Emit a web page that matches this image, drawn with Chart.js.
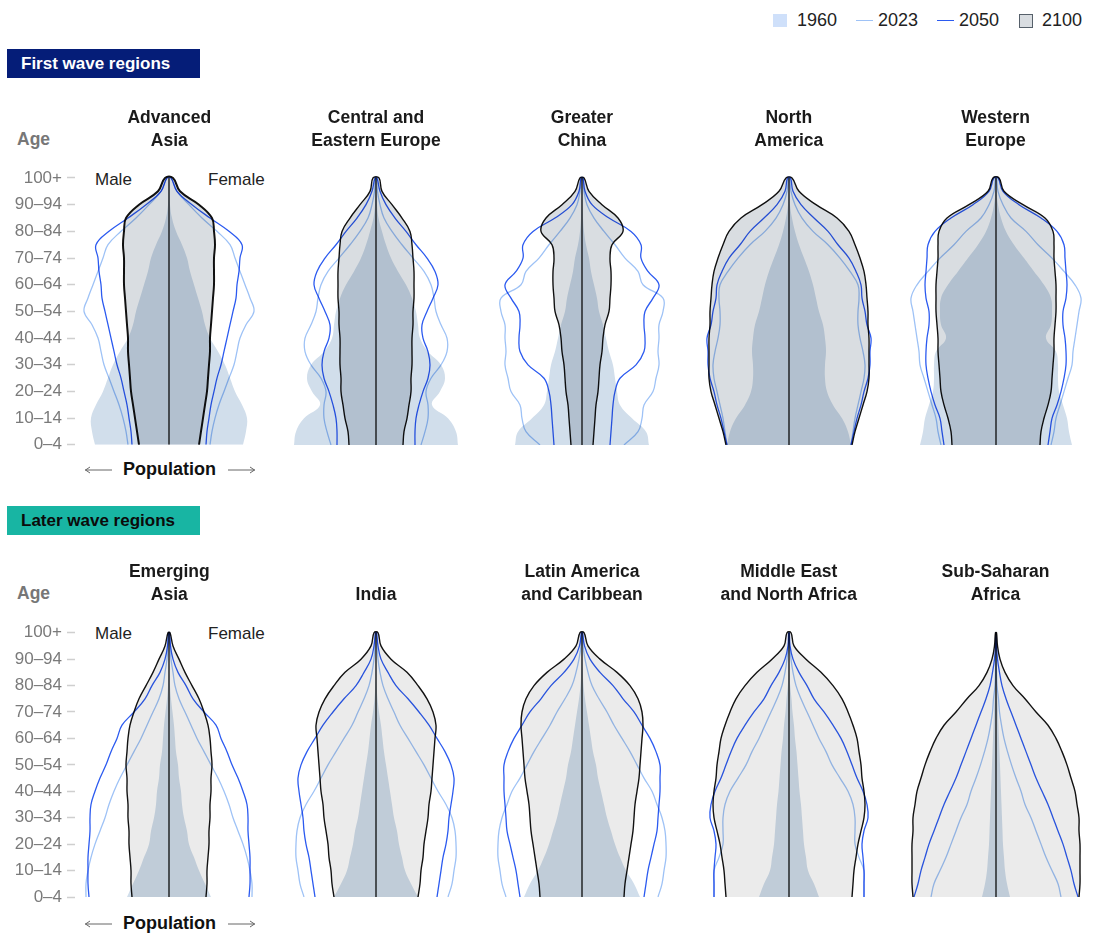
<!DOCTYPE html>
<html>
<head>
<meta charset="utf-8">
<script src="https://cdn.jsdelivr.net/npm/chart.js@4.4.1/dist/chart.umd.min.js"></script>
<style>
  body { margin: 0; background: #fff; font-family: "Liberation Sans", Arial, sans-serif; color: #1a1a1a; }
  #page { position: relative; width: 1101px; height: 933px; overflow: hidden; }
  #page canvas { position: absolute; }
  .abs { position: absolute; white-space: nowrap; }
  .title { font-weight: bold; font-size: 17.5px; line-height: 23px; text-align: center; width: 220px; }
  .section { height: 29px; line-height: 29px; font-weight: bold; font-size: 17px; padding-left: 14px; width: 179px; }
  .age { font-weight: bold; font-size: 17.5px; color: #777; }
  .sex { font-size: 17px; color: #222; }
  .pop { font-weight: bold; font-size: 18px; color: #111; }
  .leg { font-size: 18px; color: #222; top: 10px; }
</style>
</head>
<body>
<div id="page"></div>
<script>
/* AGE AXIS */
const ageGroups = ["0–4", "5–9", "10–14", "15–19", "20–24", "25–29", "30–34", "35–39", "40–44", "45–49",
  "50–54", "55–59", "60–64", "65–69", "70–74", "75–79", "80–84", "85–89", "90–94", "95–99", "100+"];
const tickIndex = [0, 2, 4, 6, 8, 10, 12, 14, 16, 18, 20];

/* RELATIVE POPULATION BY AGE GROUP (one side of the pyramid, youngest first) */
// First wave regions
const advAsia1960 = [74, 77, 78, 73, 66, 61, 56, 49, 41, 36, 33, 29, 25, 21, 18, 13, 7, 3, 1, 0.5, 0.2];
const advAsia2023 = [41, 43, 46, 50, 55, 60, 65, 68, 71, 77, 85, 81, 76, 71, 66, 61, 48, 33, 20, 8, 2];
const advAsia2050 = [37, 38, 40, 42, 45, 48, 52, 55, 58, 61, 64, 67, 68, 70, 71, 73, 60, 41, 23, 8, 2];
const advAsia2100 = [30, 32, 34, 36, 38, 39, 40, 41, 41, 42, 43, 44, 45, 45, 45, 46, 45, 43, 30, 11, 4];

const ceEurope1960 = [82, 80, 72, 56, 64, 69, 65, 52, 44, 42, 40, 36, 30, 22, 15, 10, 6, 2.5, 1, 0.5, 0.2];
const ceEurope2023 = [45, 49, 52, 52, 50, 55, 65, 71, 71, 65, 60, 58, 55, 48, 37, 26, 16, 8, 4, 1.5, 0.5];
const ceEurope2050 = [39, 39, 40, 43, 47, 52, 54, 52, 47, 46, 51, 57, 62, 59, 51, 40, 30, 19, 10, 4, 1];
const ceEurope2100 = [27, 28, 31, 33, 35, 35, 36, 36, 36, 37, 37, 38, 38, 38, 37, 36, 34, 26, 16, 6, 3];

const china1960 = [67, 64, 50, 38, 35, 33, 31, 27, 24, 21, 17, 15, 12, 9, 7, 4, 2, 1, 0.5, 0.2, 0.1];
const china2023 = [42, 56, 60, 62, 71, 74, 77, 76, 77, 77, 81, 81, 61, 56, 43, 33, 22, 12, 5, 2, 0.5];
const china2050 = [28, 29, 30, 31, 33, 38, 54, 62, 63, 62, 63, 71, 77, 66, 59, 59, 49, 27, 10, 3, 1];
const china2100 = [11, 12, 13, 14, 16, 17, 18, 20, 21, 23, 27, 28, 29, 29, 28, 30, 41, 36, 20, 7, 2];

const nAmerica1960 = [62, 59, 53, 44, 38, 36, 36, 37, 36, 34, 30, 27, 24, 20, 15, 10, 6, 3, 1, 0.3, 0.1];
const nAmerica2023 = [62, 64, 66, 69, 72, 75, 76, 74, 71, 69, 69, 70, 69, 61, 51, 39, 24, 13, 6, 2, 0.5];
const nAmerica2050 = [62, 65, 68, 72, 75, 79, 81, 81, 82, 78, 76, 73, 72, 67, 60, 49, 39, 25, 12, 4, 1.5];
const nAmerica2100 = [63, 66, 70, 74, 78, 80, 80, 80, 80, 79, 79, 78, 77, 75, 71, 66, 60, 48, 27, 10, 3];

const wEurope1960 = [76, 73, 71, 67, 63, 62, 62, 60, 50, 55, 56, 55, 48, 38, 28, 18, 10, 5, 2, 0.5, 0.2];
const wEurope2023 = [55, 58, 60, 64, 68, 72, 76, 77, 79, 81, 83, 85, 79, 68, 56, 42, 30, 15, 7, 2, 0.5];
const wEurope2050 = [52, 54, 56, 61, 65, 68, 70, 70, 69, 67, 67, 70, 71, 70, 69, 68, 61, 45, 23, 7, 2];
const wEurope2100 = [44, 45, 48, 52, 55, 56, 57, 58, 58, 59, 60, 60, 60, 59, 58, 58, 57, 49, 27, 8, 3];

// Later wave regions
const emAsia1960 = [42, 36, 30, 25, 20, 18, 15, 13, 12, 10, 9, 7, 6, 5, 3.5, 2, 1, 0.5, 0.2, 0.1, 0.1];
const emAsia2023 = [83, 83, 81, 78, 74, 69, 64, 60, 55, 49, 42, 35, 28, 22, 16, 10, 6, 4, 2, 1, 0.3];
const emAsia2050 = [80, 81, 81, 81, 80, 79, 79, 78, 74, 69, 63, 58, 52, 47, 35, 24, 17, 9, 4, 1.5, 0.5];
const emAsia2100 = [37, 38, 38, 39, 40, 40, 41, 41, 42, 42, 43, 42, 41, 39, 35, 30, 23, 16, 10, 4, 1];

const india1960 = [42, 35, 29, 26, 23, 21, 18, 16, 14, 12, 10, 8, 6.5, 5, 3, 1.5, 0.7, 0.3, 0.1, 0.1, 0.1];
const india2023 = [72, 76, 78, 80, 80, 79, 76, 70, 62, 55, 48, 40, 32, 24, 18, 12, 7, 4, 2, 1, 0.3];
const india2050 = [61, 63, 65, 67, 70, 72, 73, 75, 77, 78, 75, 69, 61, 53, 43, 32, 20, 12, 5, 2, 0.5];
const india2100 = [42, 44, 45, 47, 48, 50, 52, 53, 55, 56, 57, 58, 59, 60, 57, 51, 42, 31, 15, 5, 2];

const latAm1960 = [58, 52, 44, 38, 33, 29, 25, 22, 19, 16, 14, 11, 9, 7, 5, 3, 1.5, 0.8, 0.3, 0.1, 0.1];
const latAm2023 = [76, 80, 82, 84, 84, 83, 80, 75, 70, 62, 55, 48, 40, 32, 25, 17, 10, 6, 3, 1, 0.3];
const latAm2050 = [62, 64, 66, 69, 72, 75, 76, 77, 78, 78, 78, 74, 68, 60, 52, 41, 31, 18, 8, 2.5, 0.5];
const latAm2100 = [42, 43, 45, 47, 49, 51, 52, 53, 55, 57, 58, 59, 60, 61, 60, 56, 48, 35, 18, 6, 2];

const mena1960 = [30, 25, 19, 17, 15, 14, 13, 12, 10.5, 9.5, 8.5, 7.5, 6, 5, 3.5, 2.5, 1.2, 0.5, 0.2, 0.1, 0.1];
const mena2023 = [75, 75, 75, 70, 66, 66, 66, 64, 59, 51, 43, 37, 30, 24, 18, 12, 7, 4, 2, 0.5, 0.2];
const mena2050 = [75, 75, 75, 74, 73, 75, 79, 78, 74, 68, 63, 58, 52, 44, 35, 25, 18, 10, 4, 1, 0.3];
const mena2100 = [63, 64, 65, 67, 69, 72, 75, 76, 75, 73, 72, 70, 68, 64, 59, 53, 44, 32, 17, 5, 2];

const ssa1960 = [14, 11, 9, 8, 7, 6.5, 6, 5.5, 5, 4.5, 4, 3.5, 3, 2.5, 2, 1.5, 1, 0.5, 0.2, 0.1, 0.1];
const ssa2023 = [65, 62, 56, 50, 45, 40, 35, 29, 25, 20, 15.5, 11.5, 8, 5.5, 3.5, 2.5, 1, 0.5, 0.2, 0.1, 0.1];
const ssa2050 = [82, 78, 75, 71, 67, 62, 57, 52, 46, 40, 35, 30, 25, 20, 15, 10, 6, 3.5, 1.5, 0.5, 0.2];
const ssa2100 = [83, 84, 84, 84, 84, 83, 83, 81, 79, 75, 71, 66, 60, 52, 40, 29, 17, 9, 4, 1.5, 0.5];

const firstWave = [
  { title: ["Advanced", "Asia"], v1960: advAsia1960, v2023: advAsia2023, v2050: advAsia2050, v2100: advAsia2100 },
  { title: ["Central and", "Eastern Europe"], v1960: ceEurope1960, v2023: ceEurope2023, v2050: ceEurope2050, v2100: ceEurope2100 },
  { title: ["Greater", "China"], v1960: china1960, v2023: china2023, v2050: china2050, v2100: china2100 },
  { title: ["North", "America"], v1960: nAmerica1960, v2023: nAmerica2023, v2050: nAmerica2050, v2100: nAmerica2100 },
  { title: ["Western", "Europe"], v1960: wEurope1960, v2023: wEurope2023, v2050: wEurope2050, v2100: wEurope2100 },
];
const laterWave = [
  { title: ["Emerging", "Asia"], v1960: emAsia1960, v2023: emAsia2023, v2050: emAsia2050, v2100: emAsia2100 },
  { title: ["India"], v1960: india1960, v2023: india2023, v2050: india2050, v2100: india2100 },
  { title: ["Latin America", "and Caribbean"], v1960: latAm1960, v2023: latAm2023, v2050: latAm2050, v2100: latAm2100 },
  { title: ["Middle East", "and North Africa"], v1960: mena1960, v2023: mena2023, v2050: mena2050, v2100: mena2100 },
  { title: ["Sub-Saharan", "Africa"], v1960: ssa1960, v2023: ssa2023, v2050: ssa2050, v2100: ssa2100 },
];

/* LAYOUT & STYLE */
const COL_X = [169.3, 376, 582, 788.8, 995.5];
const PANEL_W = 340;
const AXIS_W = 76;
const X_HALF = 94;
const BLUE_1960 = "#d1deeb";
const LINE_2023 = "#9ec2f6";
const LINE_2050 = "#2b5af0";

const rows = [
  { regions: firstWave, canvasTop: 150, height: 310, padTop: 21.3, padBottom: 15, gray: "#d9dde1",
    titleBottom: 151.5, ageY: 140, sexY: 180, popY: 470, section: "First wave regions", sectionTop: 49,
    sectionBg: "#051d78", sectionColor: "#fff" },
  { regions: laterWave, canvasTop: 605, height: 310, padTop: 21.1, padBottom: 18, gray: "#ebebeb",
    titleBottom: 605.5, ageY: 594, sexY: 634, popY: 924, section: "Later wave regions", sectionTop: 506,
    sectionBg: "#18b5a3", sectionColor: "#0b0b0b" },
];

const page = document.getElementById("page");

function addText(cls, text, styles) {
  const el = document.createElement("div");
  el.className = "abs " + cls;
  el.innerHTML = text;
  Object.assign(el.style, styles);
  page.appendChild(el);
  return el;
}

// male side on the left (negative), female side on the right
function pyramidPath(values) {
  const male = values.map((v, i) => ({ x: -v, y: i }));
  const female = values.map((v, i) => ({ x: v, y: i })).reverse();
  return male.concat(female);
}

// shapes overlap like ink: multiply where 1960 and 2100 cross
const multiplyPlugin = {
  id: "multiply",
  beforeDatasetsDraw(chart) {
    chart.ctx.save();
    chart.ctx.globalCompositeOperation = "multiply";
  },
  afterDatasetsDraw(chart) {
    chart.ctx.restore();
  },
};

function drawPanel(region, row, col) {
  const canvas = document.createElement("canvas");
  canvas.width = PANEL_W;
  canvas.height = row.height;
  canvas.style.left = COL_X[col] - PANEL_W / 2 + "px";
  canvas.style.top = row.canvasTop + "px";
  page.appendChild(canvas);

  const showAxis = col === 0;
  const lineCommon = { showLine: true, pointRadius: 0, tension: 0.4 };

  new Chart(canvas, {
    type: "scatter",
    data: {
      datasets: [
        { ...lineCommon, label: "centre", data: [{ x: 0, y: 0 }, { x: 0, y: 20 }],
          borderColor: "#3a3a3a", borderWidth: 1.6, tension: 0, order: 0 },
        { ...lineCommon, label: "2050", data: pyramidPath(region.v2050),
          borderColor: LINE_2050, borderWidth: 1.3, fill: false, order: 1 },
        { ...lineCommon, label: "2023", data: pyramidPath(region.v2023),
          borderColor: LINE_2023, borderWidth: 1.3, fill: false, order: 2 },
        { ...lineCommon, label: "2100", data: pyramidPath(region.v2100),
          borderColor: "#111", borderWidth: col === 0 && row === rows[0] ? 2 : 1.4,
          backgroundColor: row.gray, fill: "shape", order: 3 },
        { ...lineCommon, label: "1960", data: pyramidPath(region.v1960),
          borderWidth: 0, borderColor: "rgba(0,0,0,0)", backgroundColor: BLUE_1960, fill: "shape", order: 4 },
      ],
    },
    options: {
      responsive: false,
      animation: false,
      events: [],
      // the age axis keeps its width even where it is hidden, so every panel lines up
      layout: { padding: { left: 0, right: AXIS_W, top: row.padTop, bottom: row.padBottom } },
      plugins: { legend: { display: false }, tooltip: { enabled: false } },
      scales: {
        x: { type: "linear", min: -X_HALF, max: X_HALF, display: false },
        y: {
          type: "linear",
          min: 0,
          max: 20.5,
          display: showAxis,
          afterFit: (scale) => { scale.width = AXIS_W; },
          afterBuildTicks: (scale) => { scale.ticks = tickIndex.map((v) => ({ value: v })); },
          border: { display: false },
          grid: { drawOnChartArea: false, drawTicks: true, tickLength: 8, tickColor: "#cfcfcf", tickWidth: 1.5 },
          ticks: {
            autoSkip: false,
            padding: 5,
            color: "#7a7a7a",
            font: { family: "'Liberation Sans', Arial, sans-serif", size: 17 },
            callback: (v) => ageGroups[v],
          },
        },
      },
    },
    plugins: [multiplyPlugin],
  });

  // panel title
  addText("title", region.title.join("<br>"), {
    left: COL_X[col] - 110 + "px",
    top: row.titleBottom - 23 * region.title.length + "px",
  });
}

function arrow(x1, x2, y, pointLeft) {
  const svgNS = "http://www.w3.org/2000/svg";
  const svg = document.createElementNS(svgNS, "svg");
  svg.setAttribute("width", "40");
  svg.setAttribute("height", "12");
  svg.style.position = "absolute";
  svg.style.left = x1 + "px";
  svg.style.top = y - 6 + "px";
  const len = x2 - x1;
  const tip = pointLeft ? 0.5 : len - 0.5;
  const back = pointLeft ? 5 : len - 5;
  svg.innerHTML =
    `<line x1="0" y1="6" x2="${len}" y2="6" stroke="#666" stroke-width="1"/>` +
    `<polyline points="${back},3 ${tip},6 ${back},9" fill="none" stroke="#666" stroke-width="1"/>`;
  page.appendChild(svg);
}

rows.forEach((row) => {
  addText("section", row.section, {
    left: "7px", top: row.sectionTop + "px", background: row.sectionBg, color: row.sectionColor,
  });
  addText("age", "Age", { left: "17px", top: row.ageY - 11 + "px" });
  addText("sex", "Male", { left: "95px", top: row.sexY - 10 + "px" });
  addText("sex", "Female", { left: "208px", top: row.sexY - 10 + "px" });
  addText("pop", "Population", { left: "123px", top: row.popY - 11 + "px" });
  arrow(85, 112, row.popY, true);
  arrow(228, 255, row.popY, false);
  row.regions.forEach((region, col) => drawPanel(region, row, col));
});

/* LEGEND */
addText("", "", { left: "773px", top: "14px", width: "14px", height: "13px", background: "#cfe0fa" });
addText("leg", "1960", { left: "797px" });
addText("", "", { left: "856px", top: "20px", width: "17px", height: "1.3px", background: LINE_2023 });
addText("leg", "2023", { left: "878px" });
addText("", "", { left: "937px", top: "20px", width: "17px", height: "1.3px", background: LINE_2050 });
addText("leg", "2050", { left: "959px" });
addText("", "", { left: "1019px", top: "14px", width: "12px", height: "12px", background: "#d9dde1", border: "1.5px solid #56606a" });
addText("leg", "2100", { left: "1042px" });
</script>
</body>
</html>
